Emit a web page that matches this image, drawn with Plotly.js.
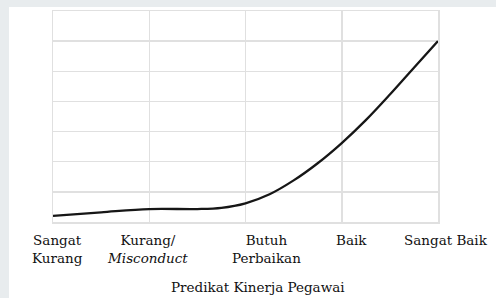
<!DOCTYPE html>
<html>
<head>
<meta charset="utf-8">
<script src="https://cdn.plot.ly/plotly-3.0.1.min.js"></script>
<style>html,body{margin:0;padding:0;background:#fff;}#chart{width:496px;height:298px;}</style>
</head>
<body>
<div id="chart"></div>
<script>
// Categories (x axis predicates)
const categories = ["Sangat<br>Kurang", "Kurang/<br><i>Misconduct</i>", "Butuh<br>Perbaikan", "Baik", "Sangat Baik"];
const categoryIndex = [0, 1, 2, 3, 4];
// Curve (x in category units, y in gridline units)
const curveX = [0, 0.5, 1.0, 1.5, 1.75, 2.0, 2.25, 2.5, 2.75, 3.0, 3.25, 3.5, 3.75, 4.0];
const curveY = [0.2, 0.32, 0.43, 0.43, 0.47, 0.62, 0.92, 1.38, 1.95, 2.62, 3.38, 4.23, 5.12, 6.0];
const xTitle = "Predikat Kinerja Pegawai";

const labelShift = [4, -2, 21, 10, 8];
const serif = "DejaVu Serif, Liberation Serif, serif";

const annotations = categories.map((c, i) => ({
  x: categoryIndex[i], y: 0, xref: 'x', yref: 'paper',
  text: c, showarrow: false, xanchor: 'center', yanchor: 'top',
  align: 'center', xshift: labelShift[i], yshift: -8,
  font: {family: serif, size: 13.5, color: '#111'}
}));
annotations.push({
  x: 0.5, y: 0, xref: 'paper', yref: 'paper', text: xTitle, showarrow: false,
  xanchor: 'center', yanchor: 'top', xshift: 12, yshift: -55,
  font: {family: serif, size: 13.5, color: '#111'}
});

const trace = {
  x: curveX, y: curveY, mode: 'lines', type: 'scatter',
  line: {color: '#161616', width: 2.3, shape: 'spline', smoothing: 1},
  hoverinfo: 'skip'
};

const grid = '#e0e0e0';
const layout = {
  width: 496, height: 298,
  margin: {l: 53, r: 58, t: 11, b: 76},
  paper_bgcolor: '#e8ecee', plot_bgcolor: '#ffffff',
  showlegend: false,
  xaxis: {range: [0, 4], tickvals: categoryIndex, showticklabels: false,
          showgrid: true, gridcolor: grid, gridwidth: 1.5, zeroline: false,
          showline: true, mirror: true, linecolor: grid, linewidth: 1.5, fixedrange: true},
  yaxis: {range: [0, 7], dtick: 1, tick0: 0, showticklabels: false,
          showgrid: true, gridcolor: grid, gridwidth: 1.5, zeroline: false,
          showline: true, mirror: true, linecolor: grid, linewidth: 1.5, fixedrange: true},
  shapes: [{
    type: 'rect', xref: 'paper', yref: 'paper', layer: 'below',
    x0: (9 - 53) / 385, x1: (500 - 53) / 385,
    y0: (222 - 300) / 211, y1: (222 - 7) / 211,
    fillcolor: '#ffffff', line: {width: 0}
  }],
  annotations: annotations
};

Plotly.newPlot('chart', [trace], layout, {staticPlot: true, displayModeBar: false});
</script>
</body>
</html>
